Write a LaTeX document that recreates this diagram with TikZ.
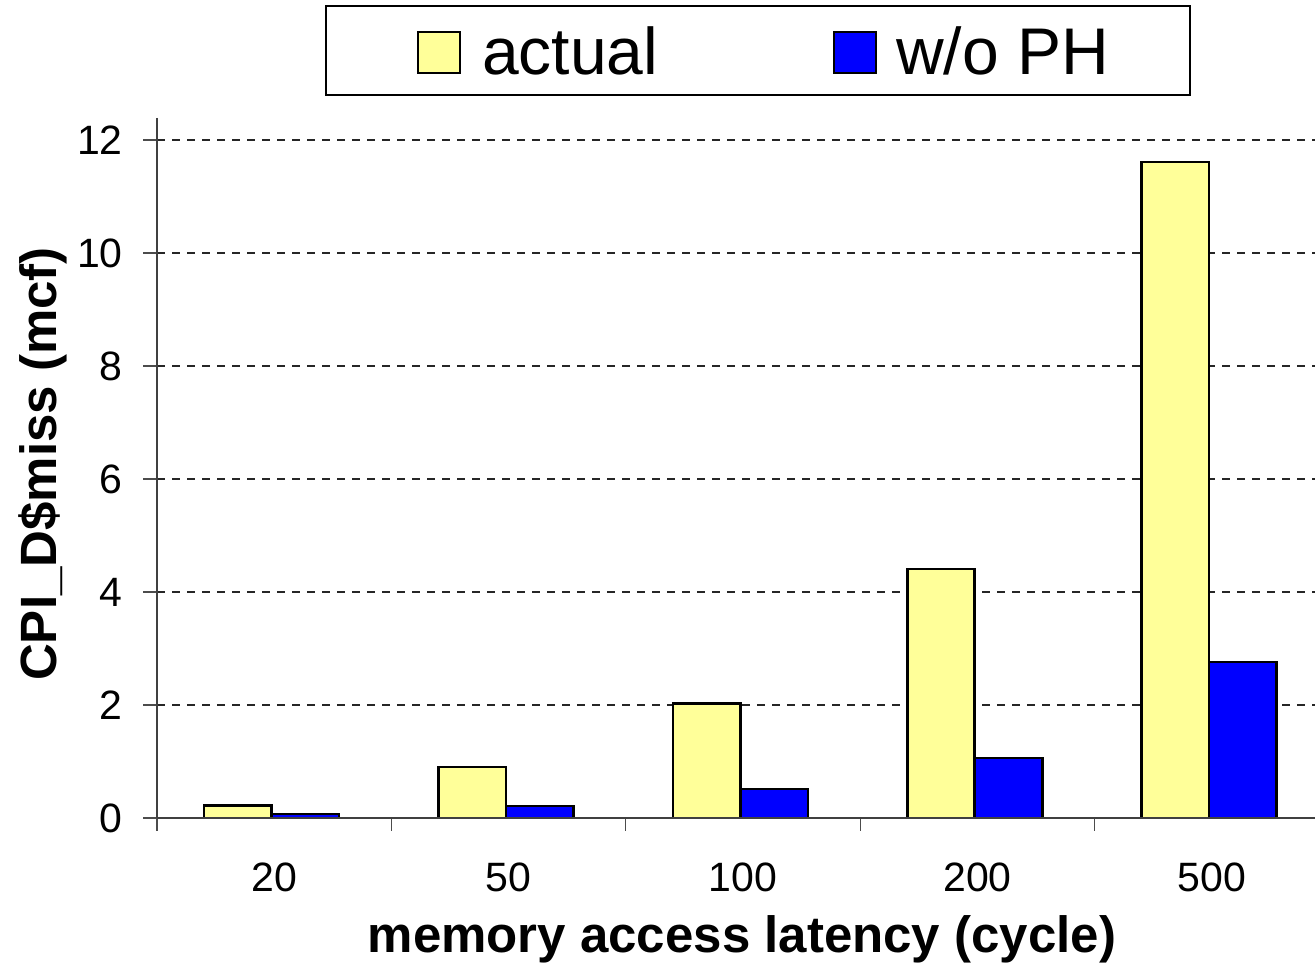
\documentclass[tikz,border=0pt]{standalone}
\usepackage{fontspec}
\setmainfont{Liberation Sans}
\definecolor{barY}{HTML}{FFFF99}
\definecolor{barB}{HTML}{0000FF}
\begin{document}
\begin{tikzpicture}[x=1pt,y=-1pt,
  bar/.style={draw=black,line width=2.6pt,line join=miter},
  gridln/.style={black!85,line width=1.2pt,dash pattern=on 8pt off 7pt},
  axisline/.style={black!75,line width=1.8pt},
  tickline/.style={black!70,line width=1.2pt},
  ticklab/.style={font=\fontsize{41}{41}\selectfont,inner sep=0pt},
  axtitle/.style={font=\fontsize{51}{51}\selectfont\bfseries,inner sep=0pt},
  legtext/.style={font=\fontsize{66}{66}\selectfont,inner sep=0pt,anchor=base west},
  legkey/.style={draw=black,line width=2.4pt}]
\useasboundingbox (0,0) rectangle (1315,963);
% horizontal gridlines
\foreach \v in {2,4,...,12}
  \draw[gridln] (157,{818-56.5*\v}) -- (1315,{818-56.5*\v});
% value axis: ticks and labels
\foreach \v in {0,2,...,12} {
  \draw[tickline] (143,{818-56.5*\v}) -- (157,{818-56.5*\v});
  \node[ticklab,anchor=east] (yl\v) at (123,{818-56.5*\v}) {\v};
}
% bars per latency
\foreach \i/\cat/\a/\b in {0/20/0.22/0.07, 1/50/0.90/0.21, 2/100/2.03/0.51, 3/200/4.41/1.06, 4/500/11.61/2.76} {
  \pgfmathsetmacro\s{271.5+234.4*\i}
  \draw[bar,fill=barY] ({\s-67.5},818) rectangle (\s,{818-56.5*\a});
  \draw[bar,fill=barB] (\s,818) rectangle ({\s+67.5},{818-56.5*\b});
  \node[ticklab] (xl\cat) at ({157+234.4*(\i+0.5)},877) {\cat};
  \draw[tickline] ({157+234.4*\i},818) -- ({157+234.4*\i},831);
}
% axes
\draw[axisline] (157,118) -- (157,818);
\draw[axisline] (157,818) -- (1315,818);
% axis titles
\node[axtitle,anchor=base] (xt) at (742,952) {memory access latency (cycle)};
\node[axtitle,rotate=90,anchor=base] (yt) at (56,464) {CPI\_D\$miss (mcf)};
% legend
\draw[line width=1.3pt] (326,6) rectangle (1190,95);
\draw[legkey,fill=barY] (418,32) rectangle (460,73);
\node[legtext] (lga) at (482,75) {actual};
\draw[legkey,fill=barB] (834,32) rectangle (876,73);
\node[legtext] (lgb) at (896,75) {w/o PH};
\end{tikzpicture}
\end{document}
